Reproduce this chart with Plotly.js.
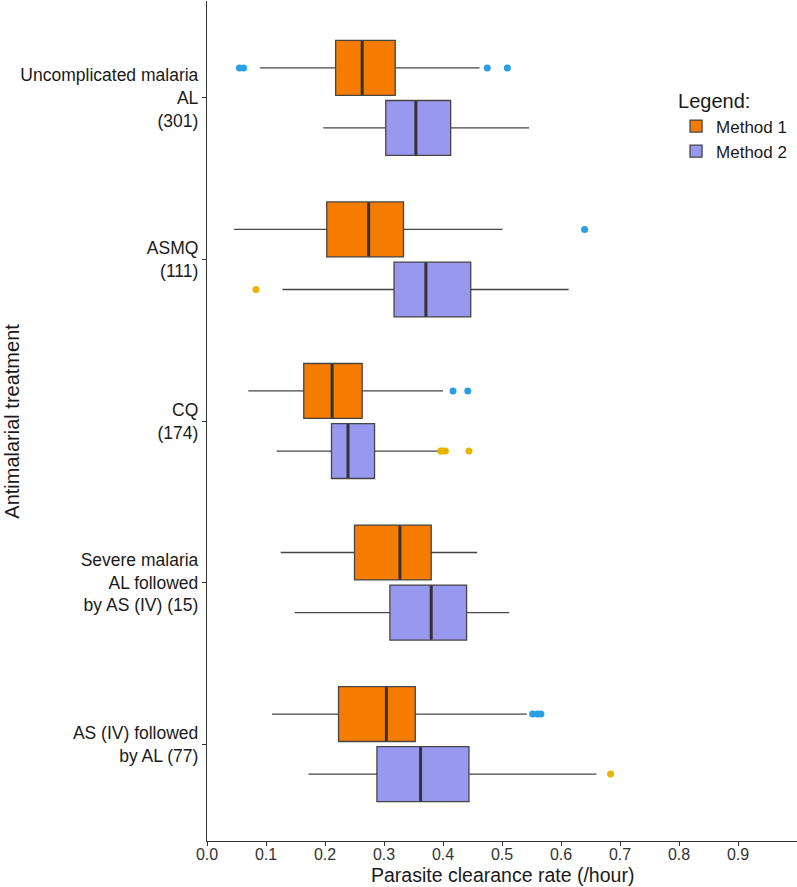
<!DOCTYPE html>
<html>
<head>
<meta charset="utf-8">
<script src="https://cdn.plot.ly/plotly-3.0.1.min.js"></script>
<style>
  html, body { margin: 0; padding: 0; background: #fff; }
  #chart { width: 797px; height: 887px; }
</style>
</head>
<body>
<div id="chart"></div>
<script>
const categories = [
    'Uncomplicated malaria<br>AL<br>(301)',
    'ASMQ<br>(111)',
    'CQ<br>(174)',
    'Severe malaria<br>AL followed<br>by AS (IV) (15)',
    'AS (IV) followed<br>by AL (77)'
];

// Method 1 box stats
const m1Low    = [0.090, 0.046, 0.070, 0.125, 0.110];
const m1Q1     = [0.218, 0.203, 0.164, 0.250, 0.223];
const m1Median = [0.263, 0.274, 0.212, 0.327, 0.304];
const m1Q3     = [0.319, 0.333, 0.263, 0.380, 0.353];
const m1High   = [0.462, 0.501, 0.400, 0.458, 0.542];
const m1Outliers = [[0.055, 0.062, 0.475, 0.509], [0.640], [0.417, 0.442], [], [0.552, 0.560, 0.566]];

// Method 2 box stats
const m2Low    = [0.197, 0.128, 0.118, 0.149, 0.172];
const m2Q1     = [0.303, 0.317, 0.211, 0.310, 0.288];
const m2Median = [0.354, 0.371, 0.239, 0.380, 0.362];
const m2Q3     = [0.413, 0.447, 0.284, 0.440, 0.444];
const m2High   = [0.546, 0.613, 0.393, 0.512, 0.660];
const m2Outliers = [[], [0.083], [0.396, 0.400, 0.404, 0.444], [], [0.684]];

const xTicks = [0, 0.1, 0.2, 0.3, 0.4, 0.5, 0.6, 0.7, 0.8, 0.9];

const shift = 0.186;
const boxWidth = 0.34;
const catPos = categories.map((c, i) => i);
const m1Pos = catPos.map(p => p - shift);
const m2Pos = catPos.map(p => p + shift);

function outlierPoints(list, pos) {
    const xs = [], ys = [];
    list.forEach((vals, i) => vals.forEach(v => { xs.push(v); ys.push(pos[i]); }));
    return { x: xs, y: ys };
}

const boxLine = { color: '#454545', width: 1.3 };

const box1 = {
    type: 'box', orientation: 'h', name: 'Method 1',
    y: m1Pos, q1: m1Q1, median: m1Median, q3: m1Q3,
    lowerfence: m1Low, upperfence: m1High,
    width: boxWidth, whiskerwidth: 0,
    fillcolor: '#F67C00', line: boxLine,
    boxpoints: false, hoverinfo: 'x'
};

const box2 = {
    type: 'box', orientation: 'h', name: 'Method 2',
    y: m2Pos, q1: m2Q1, median: m2Median, q3: m2Q3,
    lowerfence: m2Low, upperfence: m2High,
    width: boxWidth, whiskerwidth: 0,
    fillcolor: '#9898EF', line: boxLine,
    boxpoints: false, hoverinfo: 'x'
};

// thicker median bars like the original
const medians = {
    type: 'scatter', mode: 'markers', showlegend: false, hoverinfo: 'skip',
    x: m1Median.concat(m2Median), y: m1Pos.concat(m2Pos),
    marker: { symbol: 'line-ns-open', size: 38.5, color: '#333', line: { color: '#333', width: 3 } }
};

const o1 = outlierPoints(m1Outliers, m1Pos);
const out1 = {
    type: 'scatter', mode: 'markers', showlegend: false,
    x: o1.x, y: o1.y,
    marker: { color: '#2B9FE3', size: 7 }
};

const o2 = outlierPoints(m2Outliers, m2Pos);
const out2 = {
    type: 'scatter', mode: 'markers', showlegend: false,
    x: o2.x, y: o2.y,
    marker: { color: '#E8B400', size: 7 }
};

const layout = {
    width: 797, height: 887,
    margin: { l: 207, r: 0, t: 1, b: 46 },
    paper_bgcolor: '#fff', plot_bgcolor: '#fff',
    font: { family: 'Liberation Sans, Arial, sans-serif', color: '#1a1a1a' },
    showlegend: true,
    legend: {
        x: 0.795, y: 0.903, xanchor: 'left', yanchor: 'top',
        title: { text: 'Legend:', font: { size: 20 } },
        font: { size: 17 }, tracegroupgap: 0
    },
    xaxis: {
        range: [0, 1.0], tickvals: xTicks, tickformat: '.1f',
        showline: true, linecolor: '#333', linewidth: 1.3,
        ticks: 'outside', ticklen: 4, tickcolor: '#333',
        ticklabelstandoff: -5,
        showgrid: false, zeroline: false,
        tickfont: { size: 16, color: '#333' }
    },
    yaxis: {
        range: [4.6, -0.6], tickvals: catPos, ticktext: categories,
        showline: true, linecolor: '#333', linewidth: 1.3,
        ticks: 'outside', ticklen: 4, tickcolor: '#333',
        showgrid: false, zeroline: false,
        tickfont: { size: 17.5, color: '#1a1a1a' }
    },
    annotations: [{
        text: 'Parasite clearance rate (/hour)',
        xref: 'paper', yref: 'paper', x: 0.5, y: -0.0405,
        xanchor: 'center', yanchor: 'middle', showarrow: false,
        font: { size: 19.5, color: '#1a1a1a' }
    }, {
        text: 'Antimalarial treatment', textangle: -90,
        xref: 'paper', yref: 'paper', x: -0.331, y: 0.5,
        xanchor: 'center', yanchor: 'middle', showarrow: false,
        font: { size: 20, color: '#1a1a1a' }
    }]
};

Plotly.newPlot('chart', [box1, box2, medians, out1, out2], layout, { displayModeBar: false });
</script>
</body>
</html>
